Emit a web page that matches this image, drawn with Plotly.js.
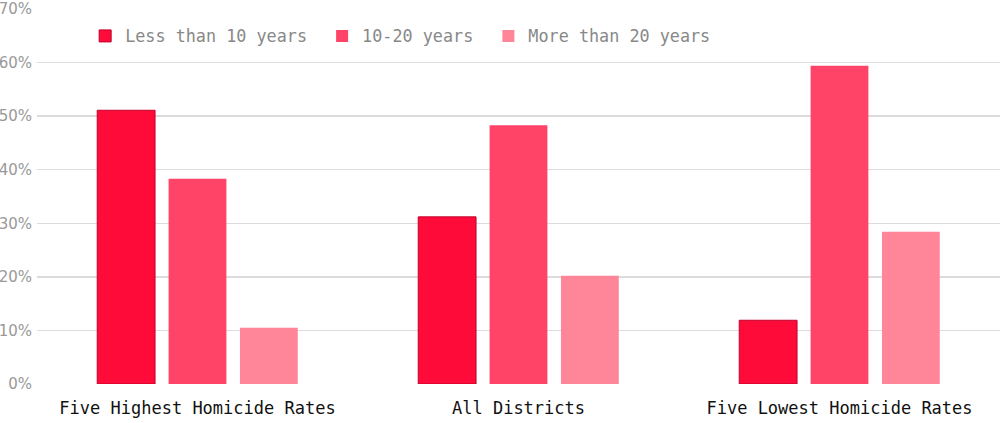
<!DOCTYPE html>
<html>
<head>
<meta charset="utf-8">
<script src="https://cdn.plot.ly/plotly-3.0.1.min.js"></script>
<style>html,body{margin:0;padding:0;background:#fff;}#chart{width:1000px;height:423px;}</style>
</head>
<body>
<div id="chart"></div>
<script>
const categories = ["Five Highest Homicide Rates", "All Districts", "Five Lowest Homicide Rates"];
const seriesNames = ["Less than 10 years", "10-20 years", "More than 20 years"];
const lessThan10 = [51.1, 31.2, 11.9];
const from10to20 = [38.3, 48.3, 59.4];
const moreThan20 = [10.5, 20.2, 28.4];
const yTickVals = [0, 10, 20, 30, 40, 50, 60, 70];
const yTickText = ["0%", "10%", "20%", "30%", "40%", "50%", "60%", "70%"];

const colors = ["#ff0b3a", "#ff4468", "#ff8599"];
const lines = ["#c2002c", "#ff4468", "#ff8599"];
const values = [lessThan10, from10to20, moreThan20];

const traces = values.map((v, i) => ({
  type: "bar",
  name: seriesNames[i] + "\u00a0",
  x: categories,
  y: v,
  marker: {color: colors[i], line: {color: lines[i], width: i === 0 ? 1 : 0}},
  hoverinfo: "none"
}));

const font = "'DejaVu Sans Mono', 'Liberation Mono', monospace";

const layout = {
  width: 1000,
  height: 423,
  margin: {l: 37, r: 0, t: 9, b: 39},
  paper_bgcolor: "#fff",
  plot_bgcolor: "#fff",
  barmode: "group",
  bargap: 0.333,
  bargroupgap: 0.19,
  showlegend: true,
  legend: {
    orientation: "h",
    x: 0.05, xanchor: "left",
    y: 0.928, yanchor: "middle",
    font: {family: font, size: 16.8, color: "#888"},
    bgcolor: "rgba(255,255,255,0)",
    itemwidth: 30,
    traceorder: "normal"
  },
  xaxis: {
    type: "category",
    tickfont: {family: font, size: 17, color: "#111"},
    showgrid: false,
    showline: false,
    ticks: "",
    ticklabelstandoff: 12,
    range: [-0.5, 2.5]
  },
  yaxis: {
    range: [0, 70],
    tickvals: yTickVals,
    ticktext: yTickText,
    tickfont: {family: "'DejaVu Sans', sans-serif", size: 15, color: "#999"},
    showgrid: true,
    gridcolor: "#dcdcdc",
    gridwidth: 1.5,
    zeroline: false,
    showline: false,
    ticks: "",
    ticklabelstandoff: 4
  }
};

Plotly.newPlot("chart", traces, layout, {displayModeBar: false, staticPlot: true});
</script>
</body>
</html>
